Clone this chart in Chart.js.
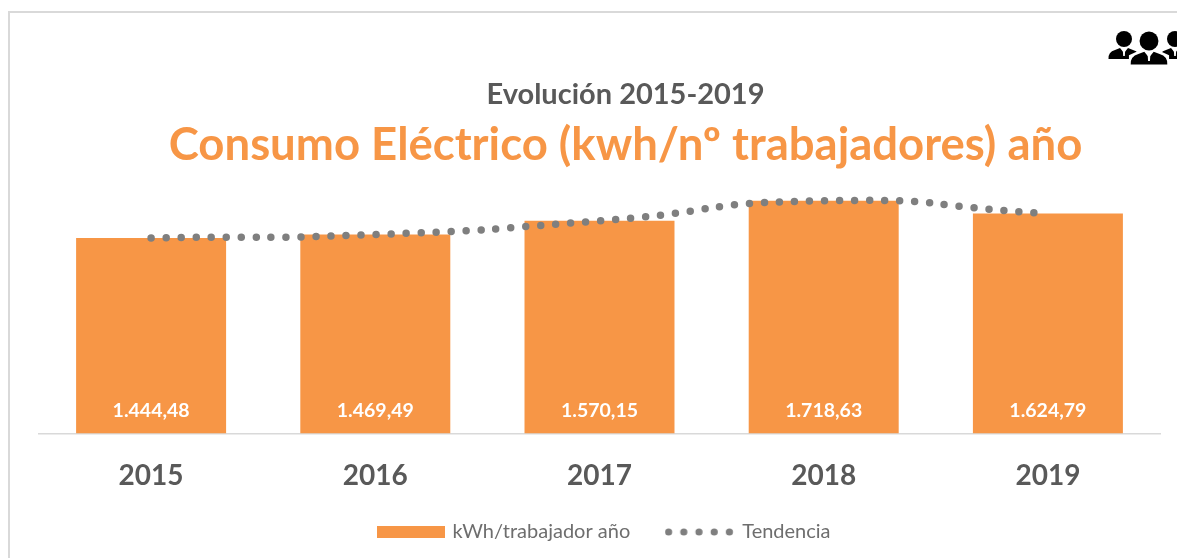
<!DOCTYPE html>
<html>
<head>
<meta charset="utf-8">
<script src="https://cdn.jsdelivr.net/npm/chart.js@4/dist/chart.umd.js"></script>
<style>
html,body{margin:0;padding:0;background:#fff;width:1177px;height:558px;overflow:hidden}
#frame{position:absolute;left:8px;top:11px;width:1300px;height:700px;border-left:2.5px solid #d9d9d9;border-top:2.5px solid #d9d9d9}
#wrap{position:absolute;left:0;top:0;width:1177px;height:558px}
#icon{position:absolute;left:1100px;top:25px;width:90px;height:45px;overflow:visible}
</style>
</head>
<body>
<div id="frame"></div>
<div id="wrap"><canvas id="c" width="1177" height="558"></canvas></div>
<svg id="icon" viewBox="1100 25 90 45" xmlns="http://www.w3.org/2000/svg">
  <defs>
    <g id="p">
      <circle cx="0" cy="-11" r="8"/>
      <path d="M-15.5 9 Q-16 2 -9 0 L-4 -2 L0 3 L4 -2 L9 0 Q16 2 15.5 9 Z"/>
      <path d="M-1.2 0 L1.2 0 L0.8 6 L-0.8 6 Z" fill="#fff"/>
    </g>
  </defs>
  <use href="#p" transform="translate(1124 50)"/>
  <use href="#p" transform="translate(1175 50)"/>
  <g transform="translate(1149 54)  scale(1.18)">
    <path d="M-17 8 L-17 1 L-6 -4 L6 -4 L17 1 L17 8 Z" fill="#fff"/>
    <use href="#p"/>
  </g>
</svg>
<script>
const categories = ['2015','2016','2017','2018','2019'];
const consumo = [1444.48,1469.49,1570.15,1718.63,1624.79];
const tendencia = [1444.48,1469.49,1570.15,1718.63,1624.79];
const valueLabels = ['1.444,48','1.469,49','1.570,15','1.718,63','1.624,79'];
const seriesBar = 'kWh/trabajador año';
const seriesLine = 'Tendencia';
const titleText = 'Evolución 2015-2019';
const subtitleText = 'Consumo Eléctrico (kwh/nº trabajadores) año';

const ORANGE = '#F79646', GREY = '#7F7F7F', TEXT = '#595959';
const FONT = 'Lato, Carlito, Calibri, sans-serif';

function swatchBar(){
  const s = document.createElement('canvas'); s.width = 68; s.height = 12;
  const x = s.getContext('2d'); x.fillStyle = ORANGE; x.fillRect(0,0,68,12); return s;
}
function swatchDots(){
  const s = document.createElement('canvas'); s.width = 72; s.height = 12;
  const x = s.getContext('2d'); x.fillStyle = GREY;
  for (let i=0;i<5;i++){ x.beginPath(); x.arc(3.8+i*15.2,6,3.6,0,Math.PI*2); x.fill(); }
  return s;
}

const barLabels = {
  id:'barLabels',
  afterDatasetsDraw(chart){
    const ctx = chart.ctx, meta = chart.getDatasetMeta(1);
    ctx.save();
    ctx.font = 'bold 19.5px '+FONT;
    ctx.fillStyle = '#fff';
    ctx.textAlign = 'center';
    ctx.textBaseline = 'middle';
    meta.data.forEach((b,i)=>ctx.fillText(valueLabels[i], b.x, b.base-23));
    ctx.restore();
  }
};
const shiftBlocks = {
  id:'shiftBlocks',
  afterLayout(chart){
    chart.boxes.forEach(b=>{
      if (b.axis === 'x') { b.bottom += 20; return; }
      if (b.axis) return;
      const d = b.position==='top' ? 26 : (b.position==='bottom' ? 5.5 : 0);
      b.left += d; b.right += d;
    });
  }
};

new Chart(document.getElementById('c'),{
  data:{
    labels:categories,
    datasets:[
      {type:'line',label:seriesLine,data:tendencia,order:0,
       borderColor:GREY,borderWidth:7.5,borderCapStyle:'round',borderDash:[0,15],
       tension:0.6,pointRadius:0,fill:false,clip:false},
      {type:'bar',label:seriesBar,data:consumo,order:1,
       backgroundColor:ORANGE,borderWidth:0,categoryPercentage:1,barPercentage:0.669}
    ]
  },
  options:{
    responsive:false,animation:false,
    layout:{padding:{left:39,right:17,top:77,bottom:6}},
    scales:{
      x:{grid:{display:false,drawTicks:false},
         border:{display:true,color:'#D9D9D9',width:1.5},
         ticks:{color:TEXT,font:{family:FONT,size:28,weight:'bold'},padding:26,maxRotation:0},
         afterFit(s){s.height=49.5;}},
      y:{display:false,min:0,max:1928}
    },
    plugins:{
      title:{display:true,text:titleText,color:TEXT,font:{family:FONT,size:29,weight:'bold'},padding:{top:0,bottom:6}},
      subtitle:{display:true,text:subtitleText,color:ORANGE,font:{family:FONT,size:45.5,weight:'bold'},padding:{top:0,bottom:0}},
      tooltip:{enabled:false},
      legend:{
        position:'bottom',
        labels:{
          usePointStyle:true,pointStyleWidth:63,boxHeight:12,
          color:GREY,font:{family:FONT,size:20},padding:39,
          generateLabels(){
            return [
              {text:seriesBar,pointStyle:swatchBar(),fontColor:'#6E6E6E',datasetIndex:1},
              {text:seriesLine,pointStyle:swatchDots(),fontColor:'#6E6E6E',datasetIndex:0}
            ];
          }
        }
      }
    }
  },
  plugins:[barLabels,shiftBlocks]
});
</script>
</body>
</html>
